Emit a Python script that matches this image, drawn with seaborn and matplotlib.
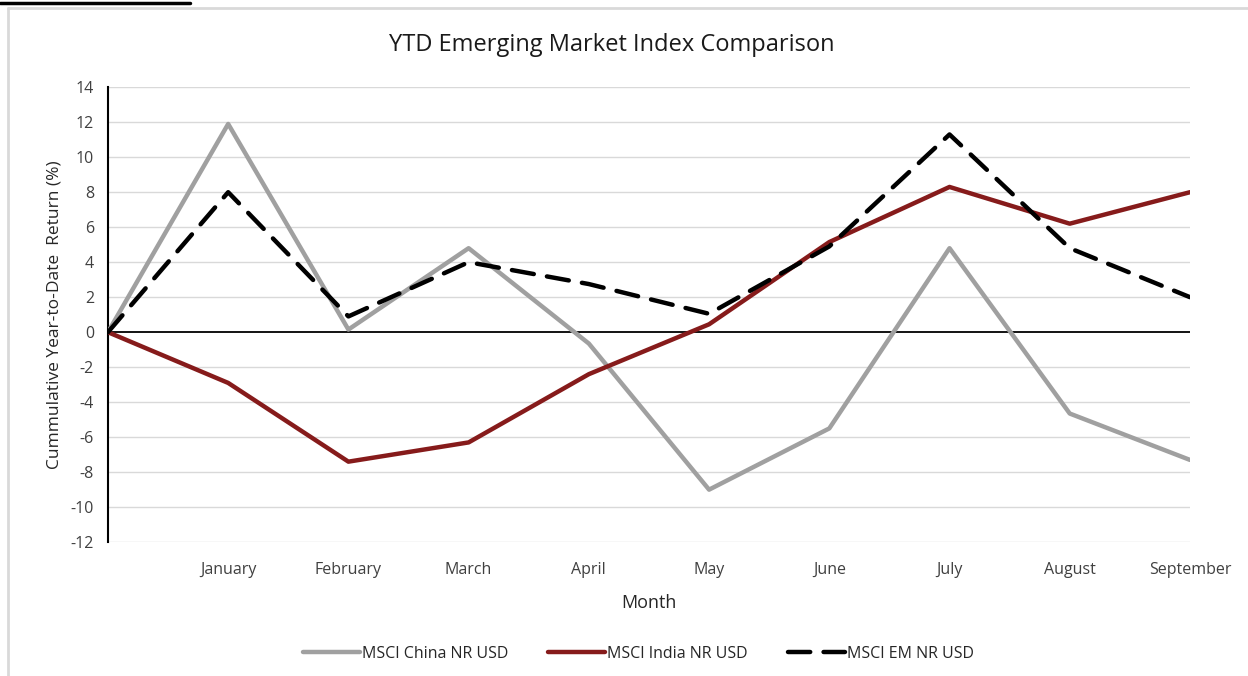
import numpy as np
import pandas as pd

import matplotlib.pyplot as plt
import seaborn as sns

# data (first point is the year start, no label)
months = ["", "January", "February", "March", "April", "May",
          "June", "July", "August", "September"]
china = [0, 11.9, 0.15, 4.8, -0.65, -9.0, -5.5, 4.8, -4.65, -7.3]
india = [0, -2.9, -7.4, -6.3, -2.4, 0.45, 5.15, 8.3, 6.2, 8.0]
em = [0, 8.0, 0.9, 4.0, 2.75, 1.05, 4.9, 11.3, 4.8, 2.0]

names = ["MSCI China NR USD", "MSCI India NR USD", "MSCI EM NR USD"]
colors = ["#a0a0a0", "#861b1b", "#000000"]

df = pd.DataFrame({
    "x": list(range(len(months))) * 3,
    "ret": china + india + em,
    "series": np.repeat(names, len(months)),
})

# plot setup
sns.set_theme(style="white")
plt.rcParams["font.family"] = ["Open Sans", "DejaVu Sans"]
plt.rcParams["axes.unicode_minus"] = False
fig = plt.figure(figsize=(12.48, 6.76), dpi=100)
ax = fig.add_axes([0.0865, 0.198, 0.867, 0.673])

for y in range(-12, 15, 2):
    if y != 0:
        ax.axhline(y, color="#d9d9d9", lw=1, zorder=0)
ax.axhline(0, color="black", lw=1.3, zorder=1)

sns.lineplot(data=df, x="x", y="ret", hue="series", style="series",
             palette=dict(zip(names, colors)),
             dashes={names[0]: "", names[1]: "", names[2]: (5, 3)},
             lw=3.2, sort=False, ax=ax, zorder=3)
for line in ax.get_lines():
    line.set_dash_capstyle("round")

ax.set_xlim(0, 9)
ax.set_ylim(-12, 14)
ax.set_yticks(range(-12, 15, 2))
ax.set_xticks(range(1, 10))
ax.set_xticklabels(months[1:], fontsize=11.5, color="#404040")
ax.tick_params(axis="y", labelsize=11.5, labelcolor="#404040", length=0, pad=10)
ax.tick_params(axis="x", length=0, pad=14)
for s in ["top", "right", "bottom"]:
    ax.spines[s].set_visible(False)
ax.spines["left"].set_color("black")
ax.spines["left"].set_linewidth(1.5)

ax.set_xlabel("Month", fontsize=13, color="#262626", labelpad=12)
ax.set_ylabel("Cummulative Year-to-Date  Return (%)", fontsize=12.5,
              color="#262626", labelpad=6)
ax.set_title("YTD Emerging Market Index Comparison", fontsize=17,
             color="#1a1a1a", pad=26, x=0.466)

handles, labels = ax.get_legend_handles_labels()
ax.legend(handles, labels, loc="center", bbox_to_anchor=(0.49, -0.245),
          ncol=3, frameon=False, fontsize=11.5, handlelength=3.6,
          handletextpad=0.1, columnspacing=2.5)

# outer frame
fig.add_artist(plt.Line2D([8 / 1248, 8 / 1248], [0, 1 - 8 / 676],
                          transform=fig.transFigure, color="#d9d9d9", lw=2))
fig.add_artist(plt.Line2D([8 / 1248, 1], [1 - 8 / 676, 1 - 8 / 676],
                          transform=fig.transFigure, color="#d9d9d9", lw=2))
fig.add_artist(plt.Line2D([0, 190 / 1248], [1 - 2.5 / 676, 1 - 2.5 / 676],
                          transform=fig.transFigure, color="black", lw=2.5))

plt.savefig("out.png", dpi=100)
